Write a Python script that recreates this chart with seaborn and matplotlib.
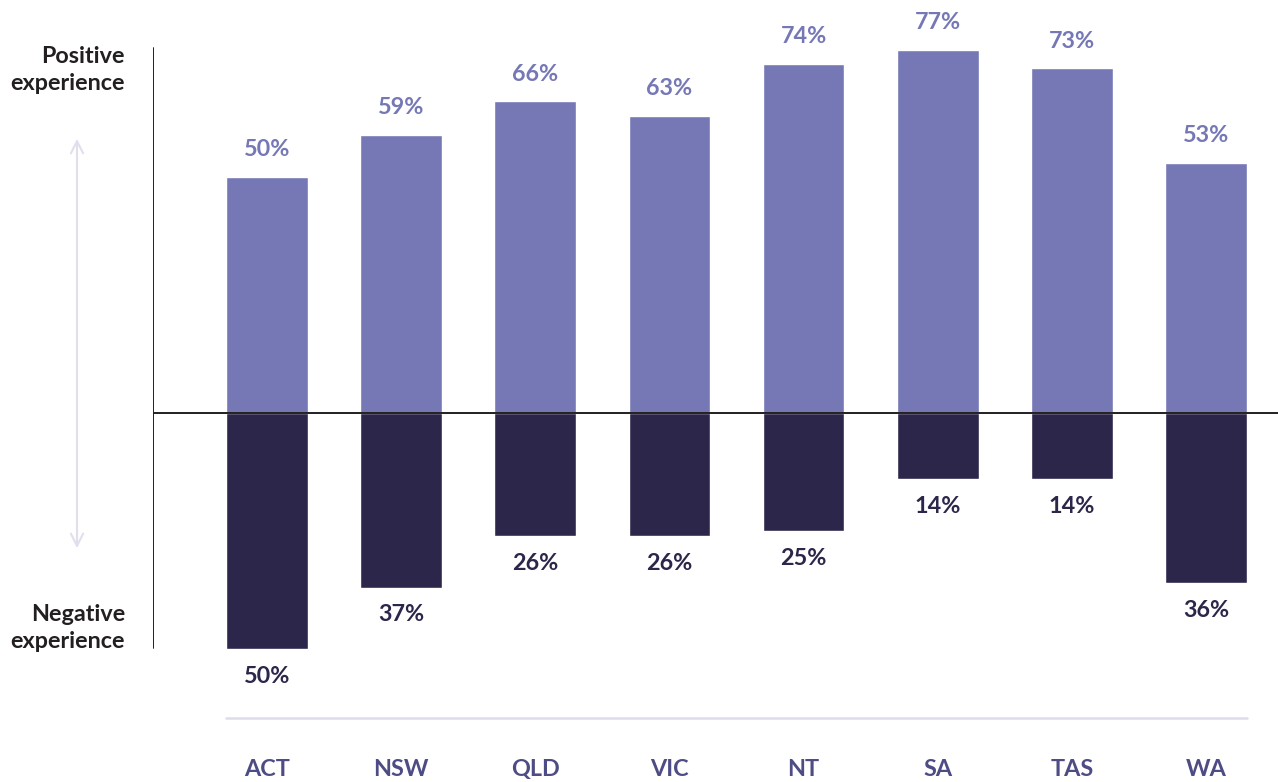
import matplotlib
matplotlib.use("Agg")
import matplotlib.pyplot as plt
import seaborn as sns
import pandas as pd

# values
states = ['ACT', 'NSW', 'QLD', 'VIC', 'NT', 'SA', 'TAS', 'WA']
positive = [50, 59, 66, 63, 74, 77, 73, 53]
negative = [50, 37, 26, 26, 25, 14, 14, 36]

pos_color = '#7678b6'
neg_color = '#2b264a'
cat_color = '#4e4c84'

sns.set_style('white')
plt.rcParams['font.family'] = ['Lato', 'DejaVu Sans']

df = pd.DataFrame({'state': states, 'positive': positive,
                   'negative': [-v for v in negative]})

fig = plt.figure(figsize=(12.78, 7.82), dpi=100)
ax = fig.add_axes([153 / 1278, 0, 1125 / 1278, 1])

sns.barplot(data=df, x='state', y='positive', color=pos_color, width=0.61,
            saturation=1, ax=ax)
sns.barplot(data=df, x='state', y='negative', color=neg_color, width=0.61,
            saturation=1, ax=ax)

ax.set_xlim(-0.85, 7.537)
ax.set_ylim(-78.2, 87.5)
ax.axis('off')

# zero line and left spine
ax.plot([-0.85, 7.537], [0, 0], color='#231f20', lw=1.4, zorder=5)
ax.plot([-0.85, -0.85], [77.3, -49.8], color='#231f20', lw=1.4, zorder=5)

fs = 16.8
# value labels
for i, (p, n) in enumerate(zip(positive, negative)):
    ax.text(i, p + 5.8, f'{p}%', ha='center', va='center', fontsize=fs,
            fontweight='bold', color=pos_color)
    ax.text(i, -n - 5.8, f'{n}%', ha='center', va='center', fontsize=fs,
            fontweight='bold', color=neg_color)
    ax.text(i, -75.6, states[i], ha='center', va='center', fontsize=fs,
            fontweight='bold', color=cat_color)

# bottom separator
ax.plot([-0.305, 7.305], [-64.6, -64.6], color='#dddcec', lw=1.8)

# side labels and arrow
fig.text(125 / 1278, 1 - 70 / 782, 'Positive\nexperience', ha='right', va='center',
         fontsize=fs, fontweight='bold', color='#231f20', linespacing=1.3)
fig.text(125 / 1278, 1 - 628 / 782, 'Negative\nexperience', ha='right', va='center',
         fontsize=fs, fontweight='bold', color='#231f20', linespacing=1.3)
ax.annotate('', xy=(77, 782 - 136), xytext=(77, 782 - 551),
            xycoords='figure pixels', textcoords='figure pixels',
            arrowprops=dict(arrowstyle='<->', color='#e0dfee', lw=1.5,
                            mutation_scale=22))

fig.savefig('out.png', dpi=100)
